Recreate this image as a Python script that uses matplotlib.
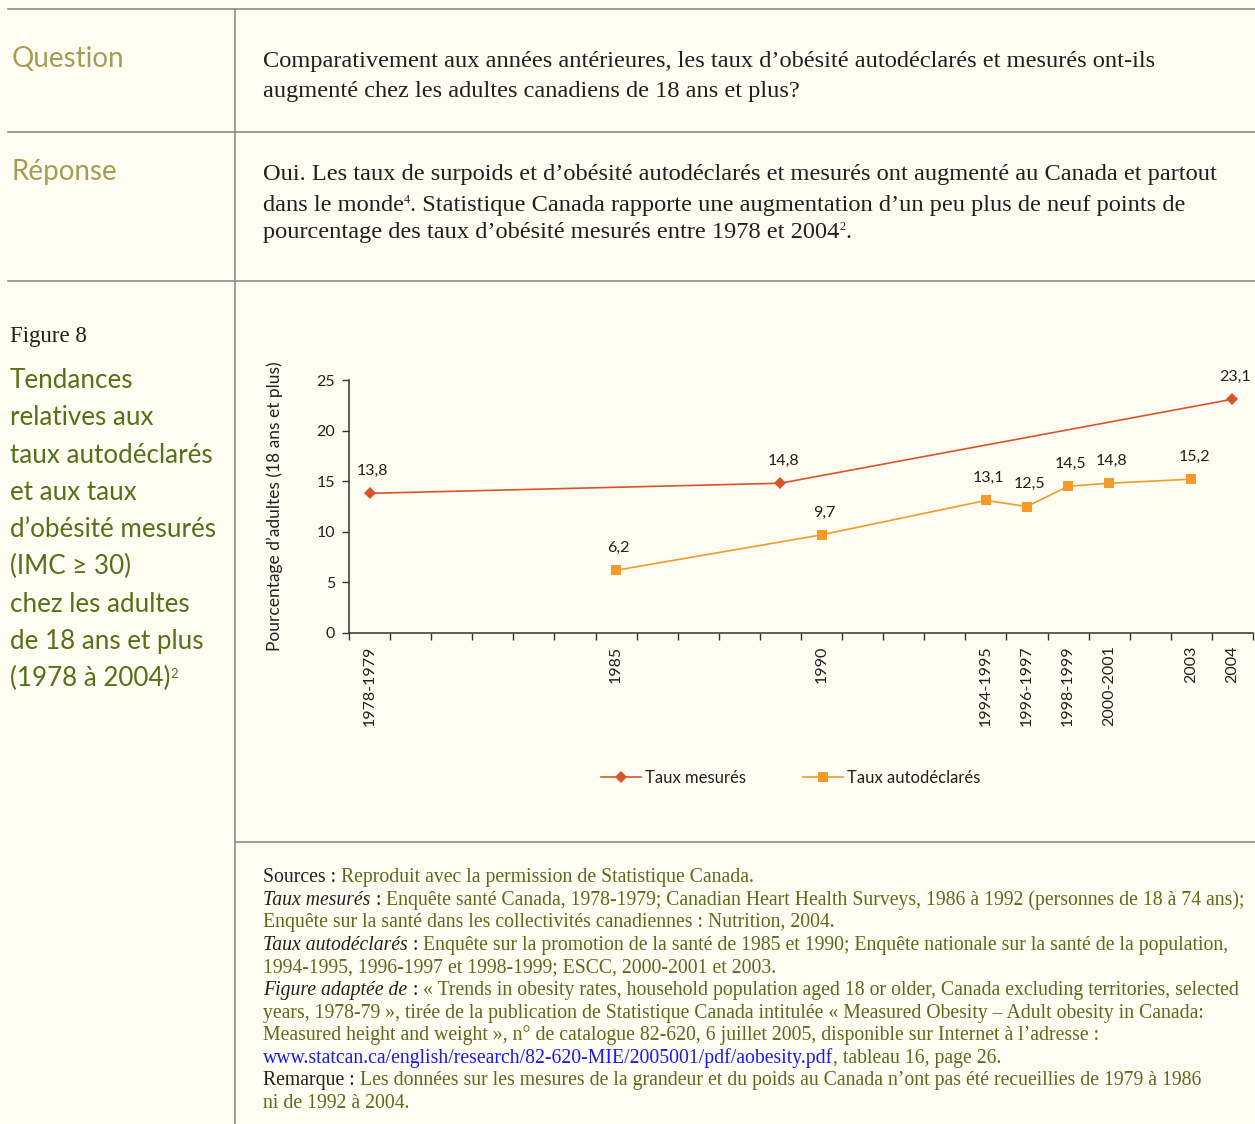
import numpy as np
import matplotlib.pyplot as plt
from matplotlib.lines import Line2D

W, H = 1255, 1124
BG = "#FFFDF2"
DARK = "#231F20"
GREEN = "#56701A"
SRC_GREEN = "#5A6B1F"
KHAKI = "#A69C55"
LINK = "#1A1AF0"
RULE = "#8C8C8C"
C_MES = "#D9542B"
C_AUTO = "#F39A2B"
SANS = ["Lato", "DejaVu Sans"]
SERIF = ["Liberation Serif", "DejaVu Serif"]

# une catégorie par année, étiquette seulement pour les années d'enquête
tick_labels = ["1978-1979", "", "", "", "", "", "1985", "", "", "", "", "1990",
               "", "", "", "1994-1995", "1996-1997", "1998-1999", "2000-2001", "",
               "2003", "2004"]
measured = [13.8, None, None, None, None, None, None, None, None, None, 14.8, None,
            None, None, None, None, None, None, None, None, None, 23.1]
self_reported = [None, None, None, None, None, None, 6.2, None, None, None, None, 9.7,
                 None, None, None, 13.1, 12.5, 14.5, 14.8, None, 15.2, None]
y_ticks = [0, 5, 10, 15, 20, 25]
series_names = ["Taux mesurés", "Taux autodéclarés"]

fig = plt.figure(figsize=(W / 100, H / 100), dpi=100, facecolor=BG)
renderer = fig.canvas.get_renderer()


def text_width(s, size, family, style="normal"):
    t = fig.text(0, 0, s, fontsize=size, family=family, style=style)
    w = t.get_window_extent(renderer).width
    t.remove()
    return w


def write(x, y, parts, size, family=SERIF):
    # parts : (texte, couleur, style, exposant)
    sp = text_width("x x", size, family) - text_width("xx", size, family)
    for txt, color, style, sup in parts:
        if txt.startswith(" "):
            x += sp
            txt = txt[1:]
        fs = size * 0.5 if sup else size
        yy = y - (size * 0.33 * 100 / 72 if sup else 0)
        t = fig.text(x / W, 1 - yy / H, txt, fontsize=fs, color=color, style=style,
                     family=family, va="baseline", ha="left")
        x = t.get_window_extent(renderer).x1


def hline(y, x0, x1):
    fig.add_artist(Line2D([x0 / W, x1 / W], [1 - y / H] * 2, color=RULE, lw=1.2))


# cadre du tableau
hline(9, 8, W)
hline(132, 8, W)
hline(281, 8, W)
hline(842, 235, W)
fig.add_artist(Line2D([235 / W] * 2, [1 - 9 / H, 0], color=RULE, lw=1.2))

# question / réponse
write(12, 67, [("Question", KHAKI, "normal", False)], 20, SANS)
write(12, 180, [("Réponse", KHAKI, "normal", False)], 20, SANS)
q = 17.6
write(263, 67, [("Comparativement aux années antérieures, les taux d’obésité autodéclarés et mesurés ont-ils", DARK, "normal", False)], q)
write(263, 97, [("augmenté chez les adultes canadiens de 18 ans et plus?", DARK, "normal", False)], q)
write(263, 180, [("Oui. Les taux de surpoids et d’obésité autodéclarés et mesurés ont augmenté au Canada et partout", DARK, "normal", False)], q)
write(263, 211, [("dans le monde", DARK, "normal", False), ("4", DARK, "normal", True),
                 (". Statistique Canada rapporte une augmentation d’un peu plus de neuf points de", DARK, "normal", False)], q)
write(263, 238, [("pourcentage des taux d’obésité mesurés entre 1978 et 2004", DARK, "normal", False),
                 ("2", DARK, "normal", True), (".", DARK, "normal", False)], q)

# titre de la figure
write(10, 342, [("Figure 8", DARK, "normal", False)], 16.5)
title_lines = ["Tendances", "relatives aux", "taux autodéclarés", "et aux taux",
               "d’obésité mesurés", "(IMC ≥ 30)", "chez les adultes",
               "de 18 ans et plus", "(1978 à 2004)"]
for k, line in enumerate(title_lines):
    parts = [(line, GREEN, "normal", False)]
    if k == len(title_lines) - 1:
        parts.append(("2", GREEN, "normal", True))
    write(10, 388 + 37.3 * k, parts, 18.7, SANS)

# graphique
ax = fig.add_axes([349 / W, 1 - 633 / H, 904 / W, 253 / H])
ax.set_facecolor("none")


def series_xy(vals):
    xs = [i + 0.5 for i, v in enumerate(vals) if v is not None]
    ys = [v for v in vals if v is not None]
    return xs, ys


for vals, color, marker, ms, name in [(measured, C_MES, "D", 6, series_names[0]),
                                      (self_reported, C_AUTO, "s", 7, series_names[1])]:
    xs, ys = series_xy(vals)
    ax.plot(xs, ys, color=color, lw=1.2, marker=marker, markersize=ms, label=name,
            markeredgewidth=0, clip_on=False)
    for x, y in zip(xs, ys):
        ax.annotate(f"{y:.1f}".replace(".", ","), (x, y), xytext=(2, 16),
                    textcoords="offset points", ha="center", va="center",
                    fontsize=11.5, family=SANS, color=DARK)

ax.set_xlim(0, len(tick_labels))
ax.set_ylim(0, 25)
ax.set_yticks(y_ticks)
ax.set_xticks(np.arange(len(tick_labels) + 1))
ax.set_xticklabels([])
ax.set_xticks(np.arange(len(tick_labels)) + 0.5, minor=True)
ax.set_xticklabels(tick_labels, minor=True, rotation=90, va="top", ha="center")
ax.tick_params(axis="x", which="major", direction="out", length=5, width=1, color="#333333")
ax.tick_params(axis="x", which="minor", length=0, pad=9, labelsize=11.5, labelcolor=DARK)
ax.tick_params(axis="y", direction="out", length=5, width=1, color="#333333",
               labelsize=11.5, labelcolor=DARK, pad=5)
for lab in ax.get_xticklabels(minor=True) + ax.get_yticklabels():
    lab.set_family(SANS)
for side in ["top", "right"]:
    ax.spines[side].set_visible(False)
for side in ["left", "bottom"]:
    ax.spines[side].set_color("#333333")
    ax.spines[side].set_linewidth(1.1)
ax.set_ylabel("Pourcentage d’adultes (18 ans et plus)", fontsize=12.5, family=SANS, color=DARK)
ax.yaxis.set_label_coords(-0.073, 0.5)

fig.legend(*ax.get_legend_handles_labels(), loc="center", bbox_to_anchor=(791 / W, 1 - 778 / H),
           ncol=2, frameon=False, handlelength=2.4, handletextpad=0.25, columnspacing=3.4,
           prop={"family": SANS, "size": 12}, labelcolor=DARK)

# sources
s = 14.2
IT = "italic"
N = "normal"
src = [
    [("Sources :", DARK, N, False), (" Reproduit avec la permission de Statistique Canada.", SRC_GREEN, N, False)],
    [("Taux mesurés", DARK, IT, False), (" :", DARK, N, False),
     (" Enquête santé Canada, 1978-1979; Canadian Heart Health Surveys, 1986 à 1992 (personnes de 18 à 74 ans);", SRC_GREEN, N, False)],
    [("Enquête sur la santé dans les collectivités canadiennes : Nutrition, 2004.", SRC_GREEN, N, False)],
    [("Taux autodéclarés", DARK, IT, False), (" :", DARK, N, False),
     (" Enquête sur la promotion de la santé de 1985 et 1990; Enquête nationale sur la santé de la population,", SRC_GREEN, N, False)],
    [("1994-1995, 1996-1997 et 1998-1999; ESCC, 2000-2001 et 2003.", SRC_GREEN, N, False)],
    [("Figure adaptée de", DARK, IT, False), (" :", DARK, N, False),
     (" « Trends in obesity rates, household population aged 18 or older, Canada excluding territories, selected", SRC_GREEN, N, False)],
    [("years, 1978-79 », tirée de la publication de Statistique Canada intitulée « Measured Obesity – Adult obesity in Canada:", SRC_GREEN, N, False)],
    [("Measured height and weight », n° de catalogue 82-620, 6 juillet 2005, disponible sur Internet à l’adresse :", SRC_GREEN, N, False)],
    [("www.statcan.ca/english/research/82-620-MIE/2005001/pdf/aobesity.pdf", LINK, N, False),
     (", tableau 16, page 26.", SRC_GREEN, N, False)],
    [("Remarque :", DARK, N, False),
     (" Les données sur les mesures de la grandeur et du poids au Canada n’ont pas été recueillies de 1979 à 1986", SRC_GREEN, N, False)],
    [("ni de 1992 à 2004.", SRC_GREEN, N, False)],
]
for k, parts in enumerate(src):
    write(263, 882 + 22.6 * k, parts, s)

fig.savefig("out.png", dpi=100, facecolor=BG)
